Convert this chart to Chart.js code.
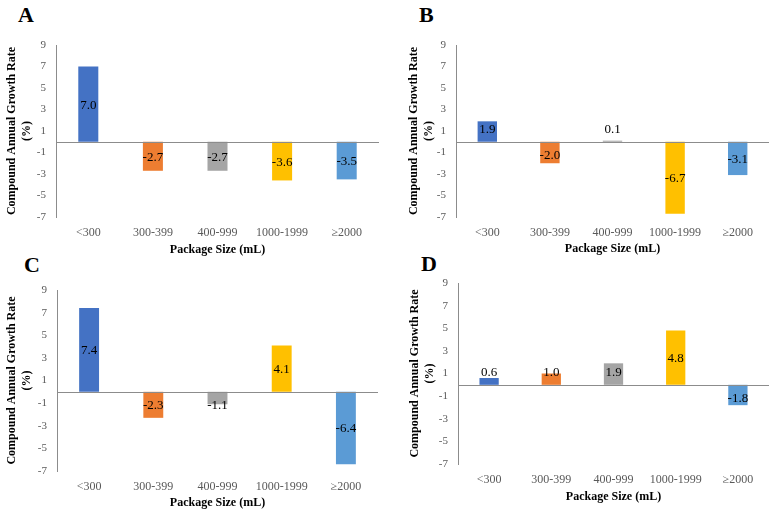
<!DOCTYPE html>
<html>
<head>
<meta charset="utf-8">
<script src="https://cdn.jsdelivr.net/npm/chart.js@4/dist/chart.umd.min.js"></script>
<style>
  body { margin:0; background:#fff; width:777px; height:515px; position:relative; overflow:hidden; }
  .panel { position:absolute; }
  .letter { position:absolute; font-family:'Liberation Serif', serif; font-weight:bold; font-size:22px; line-height:1; color:#000; }
</style>
</head>
<body>
<div class="letter" style="left:18px;top:4px">A</div>
<div class="letter" style="left:419px;top:4px">B</div>
<div class="letter" style="left:24px;top:254px">C</div>
<div class="letter" style="left:421px;top:253px">D</div>
<div class="panel" id="pA"><canvas id="chartA"></canvas></div>
<div class="panel" id="pB"><canvas id="chartB"></canvas></div>
<div class="panel" id="pC"><canvas id="chartC"></canvas></div>
<div class="panel" id="pD"><canvas id="chartD"></canvas></div>
<script>
// ---- data ----
var categories = ['<300', '300-399', '400-999', '1000-1999', '\u22652000'];
var valuesA = [7.0, -2.7, -2.7, -3.6, -3.5];
var valuesB = [1.9, -2.0, 0.1, -6.7, -3.1];
var valuesC = [7.4, -2.3, -1.1, 4.1, -6.4];
var valuesD = [0.6, 1.0, 1.9, 4.8, -1.8];
var tickValues = [9, 7, 5, 3, 1, -1, -3, -5, -7];
var barColors = ['#4472C4', '#ED7D31', '#A5A5A5', '#FFC000', '#5B9BD5'];

var xTitle = 'Package Size (mL)';
var yTitle = ['Compound Annual Growth Rate', '(%)'];

// ---- layout of each panel (page pixels) ----
var layouts = {
  A: {x:0,   y:0,   w:388, h:258, L:56,  T:45,  R:379, B:217, yT:12,  xT:250},
  B: {x:390, y:0,   w:387, h:258, L:456, T:45,  R:769, B:217, yT:414, xT:249},
  C: {x:0,   y:258, w:388, h:257, L:57,  T:290, R:378, B:471, yT:12,  xT:503},
  D: {x:390, y:258, w:387, h:257, L:458, T:283, R:769, B:464, yT:415, xT:497}
};

var serif = 'Liberation Serif';
var axisGray = '#8c8c8c';

// zero line + value labels
var zeroAndLabels = {
  id: 'zeroAndLabels',
  afterDatasetsDraw: function(chart) {
    var ctx = chart.ctx;
    var yScale = chart.scales.y;
    var area = chart.chartArea;
    var zeroY = yScale.getPixelForValue(0);
    ctx.save();
    ctx.strokeStyle = axisGray;
    ctx.lineWidth = 1;
    ctx.beginPath();
    ctx.moveTo(area.left, Math.round(zeroY) + 0.5);
    ctx.lineTo(area.right, Math.round(zeroY) + 0.5);
    ctx.stroke();

    var vals = chart.data.datasets[0].data;
    var bars = chart.getDatasetMeta(0).data;
    ctx.font = '13px "' + serif + '"';
    ctx.fillStyle = '#000';
    ctx.textAlign = 'center';
    ctx.textBaseline = 'middle';
    for (var i = 0; i < bars.length; i++) {
      var mid = (yScale.getPixelForValue(vals[i]) + zeroY) / 2;
      var off = Math.max(Math.abs(mid - zeroY), 13);
      var ly = vals[i] >= 0 ? zeroY - off : zeroY + off;
      ctx.fillText(vals[i].toFixed(1), bars[i].x, ly + 1);
    }
    ctx.restore();
  }
};

function makePanel(key, values) {
  var lay = layouts[key];
  var box = document.getElementById('p' + key);
  box.style.left = lay.x + 'px';
  box.style.top = lay.y + 'px';
  box.style.width = lay.w + 'px';
  box.style.height = lay.h + 'px';

  new Chart(document.getElementById('chart' + key), {
    type: 'bar',
    data: {
      labels: categories,
      datasets: [{
        data: values,
        backgroundColor: barColors,
        barPercentage: 0.31,
        categoryPercentage: 1
      }]
    },
    plugins: [zeroAndLabels],
    options: {
      responsive: true,
      maintainAspectRatio: false,
      animation: false,
      events: [],
      layout: {
        padding: {top: lay.T - lay.y, right: lay.x + lay.w - lay.R, left: 0, bottom: 0}
      },
      plugins: {
        legend: {display: false},
        tooltip: {enabled: false}
      },
      scales: {
        x: {
          grid: {display: false, drawTicks: false},
          border: {display: false},
          ticks: {font: {family: serif, size: 12}, color: '#595959', padding: 9, maxRotation: 0},
          title: {
            display: true, text: xTitle, color: '#000',
            font: {family: serif, size: 12, weight: 'bold'},
            padding: {top: 0, bottom: lay.y + lay.h - lay.xT - 7}
          },
          afterFit: function(s) { s.height = lay.y + lay.h - lay.B; }
        },
        y: {
          min: -7,
          max: 9,
          grid: {display: false, drawTicks: false},
          border: {display: true, color: axisGray, width: 1},
          ticks: {font: {family: serif, size: 11}, color: '#595959', padding: 10},
          afterBuildTicks: function(s) {
            s.ticks = tickValues.map(function(v) { return {value: v}; });
          },
          title: {
            display: true, text: yTitle, color: '#000',
            font: {family: serif, size: 12, weight: 'bold'},
            padding: {top: lay.yT - lay.x - 7, bottom: 0}
          },
          afterFit: function(s) { s.width = lay.L - lay.x; }
        }
      }
    }
  });
}

makePanel('A', valuesA);
makePanel('B', valuesB);
makePanel('C', valuesC);
makePanel('D', valuesD);
</script>
</body>
</html>
